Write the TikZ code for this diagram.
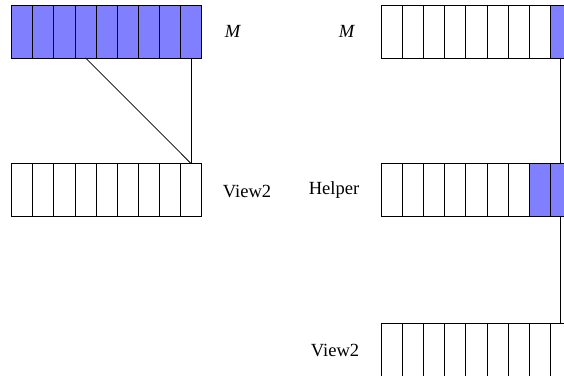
\documentclass[tikz,border=0pt]{standalone}
\usepackage{fontspec}
\setmainfont{Liberation Serif}
\begin{document}
\begin{tikzpicture}[x=0.5390pt,y=-0.5390pt,
  cell/.style={draw, line width=0.4pt, minimum width=0.4cm, minimum height=1cm, inner sep=0pt, outer sep=0pt},
  full/.style={cell, fill=blue!50},
  lbl/.style={font=\fontsize{10pt}{12pt}\selectfont, inner sep=0pt},
  link/.style={line width=0.4pt}]
\useasboundingbox (0,0) rectangle (564,375);
\clip (0,0) rectangle (564,375);
% left side
\foreach \i in {1,...,9} {
  \node[full] (a\i) at ({11.6+21.12*(\i-0.5)},31.5) {};
  \node[cell] (b\i) at ({11.6+21.12*(\i-0.5)},190) {};
}
\node[lbl] (lm) at (233,31.5) {\textit{M}};
\node[lbl] (lv) at (247,191) {View2};
\draw[link] (a4.south) -- (b9.north);
\draw[link] (a9.south) -- (b9.north);
% right side
\foreach \i in {1,...,9} {
  \node[cell] (c\i) at ({381.3+21.12*(\i-0.5)},31.5) {};
  \node[cell] (d\i) at ({381.3+21.12*(\i-0.5)},190) {};
  \node[cell] (e\i) at ({381.3+21.12*(\i-0.5)},349.5) {};
}
\node[full] at (c9) {};
\node[full] at (d8) {};
\node[full] at (d9) {};
\node[lbl] (rm) at (347,31.5) {\textit{M}};
\node[lbl] (rh) at (334,190) {Helper};
\node[lbl] (rv) at (335,350) {View2};
\draw[link] (c9.south) -- (d9.north);
\draw[link] (d9.south) -- (e9.north);
\end{tikzpicture}
\end{document}
